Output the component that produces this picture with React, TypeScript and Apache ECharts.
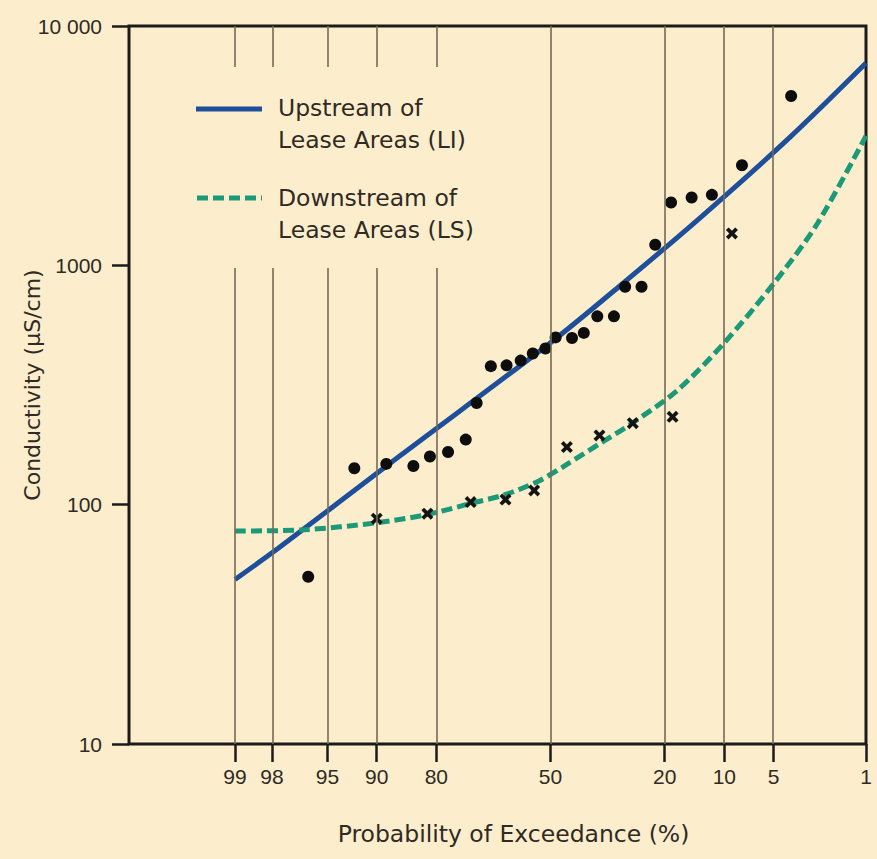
import React, { useEffect, useRef } from "react";
import * as echarts from "echarts";

// ---- Data (exceedance probability in %, conductivity in µS/cm) ----
const tickPercents = [99, 98, 95, 90, 80, 50, 20, 10, 5, 1];

const upstreamDotP = [96.3, 92.6, 88.7, 84.4, 81.3, 77.5, 73.4, 70.7, 67.0, 62.7, 58.7, 55.2, 51.5, 48.5, 43.7, 40.3, 36.5, 32.0, 29.1, 25.1, 22.0, 18.7, 14.9, 11.7, 7.9, 3.8];
const upstreamDotV = [50, 142, 148, 145, 159, 166, 187, 266, 379, 382, 400, 428, 449, 500, 497, 522, 612, 612, 814, 814, 1219, 1830, 1920, 1970, 2620, 5100];

const downstreamDotP = [90.0, 81.8, 72.2, 63.0, 54.8, 45.2, 35.9, 27.2, 18.4, 9.05];
const downstreamDotV = [87.4, 91.7, 102.5, 105, 114.7, 174, 194.6, 219, 232.8, 1359];

const upstreamFitP = [99, 97.7, 86.7, 50, 30.4, 13.5, 3.85, 1];
const upstreamFitV = [48.7, 66.5, 159.7, 475, 822, 1580, 3440, 7000];

const downstreamFitP = [99, 96.6, 90.0, 81.7, 72.1, 62.9, 53.1, 45.2, 35.7, 27.1, 17.5, 10.1, 5.0, 2.46, 1];
const downstreamFitV = [77.6, 78.5, 84.0, 91.1, 101.3, 110.4, 126.3, 147.3, 180.3, 220.4, 300, 471, 838, 1492, 3473];

const upstreamName = "Upstream of\nLease Areas (LI)";
const downstreamName = "Downstream of\nLease Areas (LS)";

// ---- Normal-probability scale (inverse normal CDF, Acklam) ----
function probit(p: number): number {
  const a = [-3.969683028665376e1, 2.209460984245205e2, -2.759285104469687e2, 1.38357751867269e2, -3.066479806614716e1, 2.506628277459239];
  const b = [-5.447609879822406e1, 1.615858368580409e2, -1.556989798598866e2, 6.680131188771972e1, -1.328068155288572e1];
  const c = [-7.784894002430293e-3, -3.223964580411365e-1, -2.400758277161838, -2.549732539343734, 4.374664141464968, 2.938163982698783];
  const d = [7.784695709041462e-3, 3.224671290700398e-1, 2.445134137142996, 3.754408661907416];
  const pl = 0.02425;
  const ph = 1 - pl;
  if (p < pl) {
    const q = Math.sqrt(-2 * Math.log(p));
    return (((((c[0] * q + c[1]) * q + c[2]) * q + c[3]) * q + c[4]) * q + c[5]) / ((((d[0] * q + d[1]) * q + d[2]) * q + d[3]) * q + 1);
  }
  if (p <= ph) {
    const q = p - 0.5;
    const r = q * q;
    return ((((((a[0] * r + a[1]) * r + a[2]) * r + a[3]) * r + a[4]) * r + a[5]) * q) / (((((b[0] * r + b[1]) * r + b[2]) * r + b[3]) * r + b[4]) * r + 1);
  }
  const q = Math.sqrt(-2 * Math.log(1 - p));
  return -(((((c[0] * q + c[1]) * q + c[2]) * q + c[3]) * q + c[4]) * q + c[5]) / ((((d[0] * q + d[1]) * q + d[2]) * q + d[3]) * q + 1);
}
// exceedance % -> axis coordinate (increasing to the right as exceedance decreases)
const toX = (pct: number) => probit(1 - pct / 100);
const pairs = (ps: number[], vs: number[]) => ps.map((p, i) => [toX(p), vs[i]]);

const BG = "#FCEECC";
const BLUE = "#1d4f9a";
const GREEN = "#1c9977";
const TEXT = "#2f2a24";
const FRAME = "#1b1b1b";
const GRIDLINE = "#766a58";
const X_MIN = -3.108;

export default function App() {
  const ref = useRef<HTMLDivElement>(null);
  useEffect(() => {
    document.body.style.margin = "0";
    if (!ref.current) return;
    const chart = echarts.init(ref.current, undefined, { renderer: "svg" });
    const tickXs = tickPercents.map(toX);
    const fmtX = (v: number) => {
      const i = tickXs.findIndex((t) => Math.abs(t - v) < 1e-6);
      return i >= 0 ? String(tickPercents[i]) : "";
    };
    const crossPath = "path://M0,2.2L2.2,0L5,2.8L7.8,0L10,2.2L7.2,5L10,7.8L7.8,10L5,7.2L2.2,10L0,7.8L2.8,5Z";
    chart.setOption({
      animation: false,
      backgroundColor: BG,
      grid: {
        left: 129,
        right: 11,
        top: 26,
        bottom: 115,
        outerBoundsMode: "none",
        show: true,
        borderColor: FRAME,
        borderWidth: 3,
        backgroundColor: "transparent",
      },
      xAxis: {
        type: "value",
        min: X_MIN,
        max: toX(1),
        axisLine: { show: false, onZero: false },
        axisTick: { show: true, inside: false, length: 18, customValues: tickXs, lineStyle: { color: FRAME, width: 2.5 } },
        axisLabel: { customValues: tickXs, formatter: fmtX, margin: 22, fontSize: 21, fontFamily: "Liberation Sans, Arial, sans-serif", color: TEXT },
        splitLine: { show: false },
        name: "Probability of Exceedance (%)",
        nameLocation: "middle",
        nameGap: 78,
        nameMoveOverlap: false,
        nameTextStyle: { fontSize: 23.5, fontFamily: "DejaVu Sans, sans-serif", color: TEXT, padding: [0, 0, 0, 32] },
      },
      yAxis: {
        type: "log",
        logBase: 10,
        min: 10,
        max: 10000,
        axisLine: { show: false, onZero: false },
        axisTick: { show: true, inside: false, length: 17, lineStyle: { color: FRAME, width: 2.5 } },
        axisLabel: {
          margin: 27,
          fontSize: 21,
          fontFamily: "Liberation Sans, Arial, sans-serif",
          color: TEXT,
          formatter: (v: number) => (v === 10000 ? "10 000" : String(v)),
        },
        minorTick: { show: false },
        splitLine: { show: false },
        name: "Conductivity (µS/cm)",
        nameLocation: "middle",
        nameGap: 86,
        nameMoveOverlap: false,
        nameTextStyle: { fontSize: 22, fontFamily: "DejaVu Sans, sans-serif", color: TEXT },
      },
      series: [
        {
          type: "line",
          data: [],
          z: 1,
          silent: true,
          markLine: {
            silent: true,
            symbol: ["none", "none"],
            label: { show: false },
            lineStyle: { color: GRIDLINE, width: 1.6, type: "solid" },
            data: tickXs.map((x) => ({ xAxis: x })),
          },
        },
        {
          name: upstreamName,
          type: "line",
          data: pairs(upstreamFitP, upstreamFitV),
          showSymbol: false,
          symbol: "none",
          smooth: 0.3,
          lineStyle: { color: BLUE, width: 5 },
          z: 3,
        },
        {
          name: downstreamName,
          type: "line",
          data: pairs(downstreamFitP, downstreamFitV),
          showSymbol: false,
          symbol: "none",
          smooth: 0.3,
          lineStyle: { color: GREEN, width: 5, type: [11, 5] },
          z: 3,
        },
        {
          type: "scatter",
          data: pairs(upstreamDotP, upstreamDotV),
          symbol: "circle",
          symbolSize: 12,
          itemStyle: { color: "#0d0d0d", opacity: 1 },
          z: 4,
        },
        {
          type: "scatter",
          data: pairs(downstreamDotP, downstreamDotV),
          symbol: crossPath,
          symbolSize: 12,
          itemStyle: { color: "#141414", opacity: 1 },
          z: 4,
        },
      ],
      graphic: [
        { type: "rect", z: 50, shape: { x: 188, y: 67, width: 304, height: 201 }, style: { fill: BG } },
        { type: "line", z: 51, shape: { x1: 196, y1: 109, x2: 262, y2: 109 }, style: { stroke: BLUE, lineWidth: 5 } },
        { type: "line", z: 51, shape: { x1: 197, y1: 198, x2: 262, y2: 198 }, style: { stroke: GREEN, lineWidth: 5, lineDash: [11, 5] } },
        { type: "text", z: 51, x: 278, y: 108, style: { text: "Upstream of", fontSize: 23.5, fontFamily: "DejaVu Sans, sans-serif", fill: TEXT, verticalAlign: "middle" } },
        { type: "text", z: 51, x: 278, y: 140, style: { text: "Lease Areas (LI)", fontSize: 23.5, fontFamily: "DejaVu Sans, sans-serif", fill: TEXT, verticalAlign: "middle" } },
        { type: "text", z: 51, x: 278, y: 198, style: { text: "Downstream of", fontSize: 23.5, fontFamily: "DejaVu Sans, sans-serif", fill: TEXT, verticalAlign: "middle" } },
        { type: "text", z: 51, x: 278, y: 230, style: { text: "Lease Areas (LS)", fontSize: 23.5, fontFamily: "DejaVu Sans, sans-serif", fill: TEXT, verticalAlign: "middle" } },
      ],
    });
    return () => chart.dispose();
  }, []);
  return <div ref={ref} style={{ width: 877, height: 859 }} />;
}
